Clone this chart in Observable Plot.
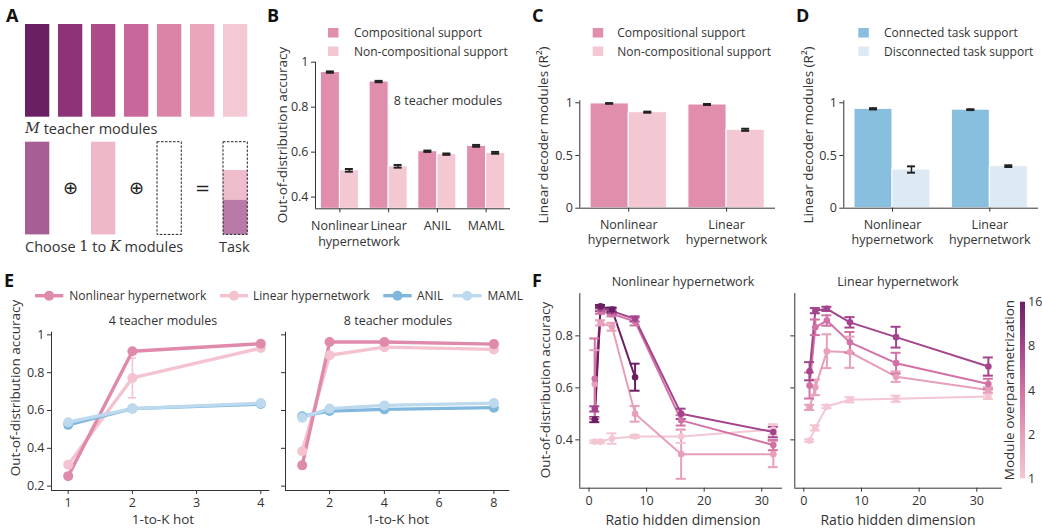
<!DOCTYPE html>
<html><head><meta charset="utf-8">
<script src="https://cdn.jsdelivr.net/npm/d3@7"></script>
<script src="https://cdn.jsdelivr.net/npm/@observablehq/plot@0.6"></script>
<style>
body{margin:0;background:#fff;}
#fig{position:relative;width:1042px;height:529px;overflow:hidden;background:#fff;font-family:"Open Sans",sans-serif;}
</style>
</head><body><div id="fig"></div>
<script>
// ---------------- DATA ----------------
// Panel A
const teacherColors = ["#6b1f63","#8e3377","#ad4a89","#c86799","#dc84a8","#eaa7bc","#f3c9d3"];
const chosenColors = ["#a75e95","#eeb8c9"];
const taskSegments = [0, 0.305, 0.627, 1];
const taskColors = ["none","#efbccb","#b77aa8"];

// Panel B
const bGroups = ["Nonlinear","Linear","ANIL","MAML"];
const bComp = [0.956, 0.914, 0.604, 0.628];
const bCompErr = [0.003, 0.003, 0.003, 0.004];
const bNonComp = [0.519, 0.537, 0.591, 0.597];
const bNonCompErr = [0.006, 0.006, 0.003, 0.004];

// Panel C
const cGroups = ["Nonlinear\nhypernetwork","Linear\nhypernetwork"];
const cComp = [0.994, 0.984];
const cCompErr = [0.003, 0.005];
const cNonComp = [0.911, 0.744];
const cNonCompErr = [0.005, 0.01];

// Panel D
const dConn = [0.943, 0.935];
const dConnErr = [0.006, 0.004];
const dDisc = [0.367, 0.399];
const dDiscErr = [0.03, 0.008];

// Panel E
const eK4 = [1, 2, 4];
const eNonlin4 = [0.253, 0.913, 0.953];
const eLin4 = [0.313, 0.772, 0.930];
const eLin4Err = [0.008, 0.105, 0.008];
const eAnil4 = [0.524, 0.610, 0.634];
const eMaml4 = [0.538, 0.610, 0.639];
const eK8 = [1, 2, 4, 8];
const eNonlin8 = [0.310, 0.962, 0.962, 0.951];
const eLin8 = [0.385, 0.892, 0.935, 0.923];
const eAnil8 = [0.570, 0.597, 0.606, 0.615];
const eMaml8 = [0.562, 0.610, 0.627, 0.639];

// Panel F
const fRatio = [1, 2, 4, 8, 16, 32];
const overLevels = [1, 2, 4, 8, 16];
const overColors = ["#f3c6d2","#e79fbc","#d271a3","#a3448d","#6b1f63"];
// Nonlinear hypernetwork
const fNl1 = [0.393, 0.393, 0.405, 0.413, 0.413, 0.440];
const fNl1Err = [0.005, 0.005, 0.02, 0.006, 0.025, 0.02];
const fNl2 = [0.615, 0.850, 0.835, 0.500, 0.345, 0.345];
const fNl2Err = [0.13, 0.01, 0.015, 0.03, 0.095, 0.05];
const fNl4 = [0.635, 0.895, 0.885, 0.855, 0.475, 0.380];
const fNl4Err = [0.155, 0.01, 0.01, 0.015, 0.02, 0.02];
const fNl8 = [0.519, 0.905, 0.895, 0.865, 0.500, 0.430];
const fNl8Err = [0.01, 0.01, 0.01, 0.01, 0.02, 0.02];
const fNl16 = [0.478, 0.914, 0.901, 0.641];
const fNl16Err = [0.01, 0.005, 0.008, 0.052];
// Linear hypernetwork
const fLi1 = [0.397, 0.446, 0.528, 0.554, 0.558, 0.567];
const fLi1Err = [0.005, 0.01, 0.006, 0.01, 0.012, 0.01];
const fLi2 = [0.525, 0.602, 0.741, 0.737, 0.643, 0.592];
const fLi2Err = [0.01, 0.03, 0.065, 0.06, 0.02, 0.01];
const fLi4 = [0.609, 0.833, 0.859, 0.775, 0.695, 0.615];
const fLi4Err = [0.05, 0.03, 0.02, 0.04, 0.04, 0.02];
const fLi8 = [0.664, 0.897, 0.904, 0.852, 0.795, 0.682];
const fLi8Err = [0.035, 0.01, 0.008, 0.02, 0.04, 0.035];

// ---------------- HELPERS ----------------
const fig = document.getElementById("fig");
const FONT = '"Open Sans", sans-serif';
const INK = "#333";
function place(node, left, top) {
  node.style.position = "absolute";
  node.style.left = left + "px";
  node.style.top = top + "px";
  fig.appendChild(node);
}
const baseStyle = {fontFamily: FONT, fontSize: "12.5px", color: INK, background: "transparent", overflow: "visible"};
const fmt1 = d => d === 1 ? "1" : (d === 0 ? "0" : d3.format(".1f")(d));

// ---------------- PANEL A ----------------
{
  const top = teacherColors.map((c, i) => ({col: i, c}));
  const bottom = [{col: 0, c: chosenColors[0]}, {col: 2, c: chosenColors[1]}];
  const dashed = [{col: 4}, {col: 6}];
  const task = taskColors.map((c, i) => ({col: 6, a: taskSegments[i], b: taskSegments[i + 1], c})).filter(d => d.c !== "none");
  const ops = [{col: 1, s: "\u2295"}, {col: 3, s: "\u2295"}, {col: 5, s: "="}];
  const W = 0.736, R2 = 1.27;
  const svg = Plot.plot({
    width: 260, height: 250, marginLeft: 25, marginRight: 4, marginTop: 24, marginBottom: 15.6,
    x: {domain: [0, 7], axis: null},
    y: {domain: [0, 2.27], reverse: true, axis: null},
    style: baseStyle,
    marks: [
      Plot.rect(top, {x1: "col", x2: d => d.col + W, y1: 0, y2: 1, fill: "c"}),
      Plot.rect(bottom, {x1: "col", x2: d => d.col + W, y1: R2, y2: R2 + 1, fill: "c"}),
      Plot.rect(task, {x1: "col", x2: d => d.col + W, y1: d => R2 + d.a, y2: d => R2 + d.b, fill: "c"}),
      Plot.rect(dashed, {x1: "col", x2: d => d.col + W, y1: R2, y2: R2 + 1, fill: "none", stroke: "#222", strokeWidth: 1, strokeDasharray: "2.5,1.5"}),
      Plot.text(ops, {x: d => d.col + W / 2, y: R2 + 0.5, text: "s", fontSize: 18, fill: "#222", fontFamily: "DejaVu Sans"})
    ]
  });
  place(svg, 0, 0);
}

// ---------------- BAR PANELS ----------------
function barPanel(o) {
  const rows = [];
  o.labels.forEach((l, i) => {
    rows.push({g: i, side: -1, v: o.a[i], e: o.aErr[i], c: o.colA});
    rows.push({g: i, side: 1, v: o.b[i], e: o.bErr[i], c: o.colB});
  });
  const y0 = o.yDomain[0], n = o.labels.length, BW = 0.39;
  const cx = d => d.g + d.side * BW / 2;
  const svg = Plot.plot({
    width: o.width, height: o.height,
    marginLeft: o.mL, marginRight: o.mR, marginTop: o.mT, marginBottom: o.mB,
    x: {domain: [-0.5, n - 0.5]},
    y: {domain: o.yDomain},
    style: baseStyle,
    marks: [
      Plot.rect(rows, {x1: d => d.side < 0 ? d.g - BW : d.g, x2: d => d.side < 0 ? d.g : d.g + BW, y1: y0, y2: "v", fill: "c", stroke: "white", strokeWidth: 1}),
      Plot.ruleX(rows, {x: cx, y1: d => d.v - d.e, y2: d => d.v + d.e, stroke: "#222", strokeWidth: 1.5}),
      Plot.ruleY(rows, {y: d => d.v + d.e, x1: cx, x2: cx, insetLeft: -4, insetRight: -4, stroke: "#222", strokeWidth: 2}),
      Plot.ruleY(rows, {y: d => d.v - d.e, x1: cx, x2: cx, insetLeft: -4, insetRight: -4, stroke: "#222", strokeWidth: 2}),
      Plot.ruleY([y0], {stroke: INK}),
      Plot.ruleX([-0.5], {stroke: INK}),
      Plot.axisY({ticks: o.yTicks, tickFormat: fmt1, tickSize: 4, tickPadding: 3, label: null, fontSize: 12.5}),
      Plot.axisX({ticks: o.labels.map((l, i) => i), tickFormat: i => o.labels[i], tickSize: 4, tickPadding: 6, lineHeight: 1.23, label: null, fontSize: 12.5})
    ]
  });
  place(svg, o.left, o.top);
}
const COMP = "#e08dae", NONCOMP = "#f4c8d3", CONN = "#88bfdf", DISC = "#dde9f5";
barPanel({left: 255, top: 0, width: 262, height: 250, mL: 60, mR: 7, mT: 61.7, mB: 41.7,
  yDomain: [0.348, 1.0], yTicks: [0.4, 0.6, 0.8, 1], labels: bGroups,
  a: bComp, aErr: bCompErr, b: bNonComp, bErr: bNonCompErr, colA: COMP, colB: NONCOMP});
barPanel({left: 520, top: 0, width: 260, height: 250, mL: 59.3, mR: 5, mT: 100.2, mB: 42.3,
  yDomain: [0, 1.02], yTicks: [0, 0.5, 1], labels: cGroups,
  a: cComp, aErr: cCompErr, b: cNonComp, bErr: cNonCompErr, colA: COMP, colB: NONCOMP});
barPanel({left: 780, top: 0, width: 262, height: 250, mL: 63.3, mR: 4, mT: 100.2, mB: 42.3,
  yDomain: [0, 1.02], yTicks: [0, 0.5, 1], labels: cGroups,
  a: dConn, aErr: dConnErr, b: dDisc, bErr: dDiscErr, colA: CONN, colB: DISC});

// ---------------- PANEL E ----------------
const eColors = {nl: "#e08aab", lin: "#f4c3cf", anil: "#80b7dc", maml: "#bcd9ee"};
function ePanel(o) {
  const rows = [];
  o.series.forEach(s => s.v.forEach((v, i) => rows.push({key: s.key, x: o.ks[i], v, e: s.e ? s.e[i] : 0})));
  const errRows = rows.filter(d => d.e > 0.02);
  const svg = Plot.plot({
    width: o.width, height: o.height,
    marginLeft: o.mL, marginRight: o.mR, marginTop: o.mT, marginBottom: o.mB,
    x: {domain: o.xDomain},
    y: {domain: [0.177, 1.014]},
    color: {domain: Object.keys(eColors), range: Object.values(eColors)},
    style: baseStyle,
    marks: [
      Plot.ruleY([0.177], {stroke: INK}),
      Plot.ruleX([o.xDomain[0]], {stroke: INK}),
      Plot.ruleX(errRows, {x: "x", y1: d => d.v - d.e, y2: d => d.v + d.e, stroke: "key", strokeWidth: 1.6}),
      Plot.ruleY(errRows, {y: d => d.v + d.e, x1: "x", x2: "x", insetLeft: -4, insetRight: -4, stroke: "key", strokeWidth: 1.6}),
      Plot.ruleY(errRows, {y: d => d.v - d.e, x1: "x", x2: "x", insetLeft: -4, insetRight: -4, stroke: "key", strokeWidth: 1.6}),
      Plot.line(rows, {x: "x", y: "v", z: "key", stroke: "key", strokeWidth: 3.4}),
      Plot.dot(rows, {x: "x", y: "v", fill: "key", r: 5}),
      Plot.axisY({ticks: [0.2, 0.4, 0.6, 0.8, 1], tickFormat: o.yLabels ? fmt1 : () => "", tickSize: 4, tickPadding: 3, label: null, fontSize: 12.5}),
      Plot.axisX({ticks: o.xTicks, tickFormat: d3.format("d"), tickSize: 4, tickPadding: 4, label: null, fontSize: 12.5})
    ]
  });
  place(svg, o.left, o.top);
}
ePanel({left: 0, top: 300, width: 280, height: 229, mL: 51, mR: 10.7, mT: 31.7, mB: 39,
  xDomain: [0.74, 4.14], xTicks: [1, 2, 3, 4], ks: eK4, yLabels: true,
  series: [{key: "lin", v: eLin4, e: eLin4Err}, {key: "nl", v: eNonlin4}, {key: "anil", v: eAnil4}, {key: "maml", v: eMaml4}]});
ePanel({left: 280, top: 300, width: 240, height: 229, mL: 5, mR: 10.7, mT: 31.7, mB: 39,
  xDomain: [0.39, 8.58], xTicks: [2, 4, 6, 8], ks: eK8, yLabels: false,
  series: [{key: "lin", v: eLin8}, {key: "nl", v: eNonlin8}, {key: "anil", v: eAnil8}, {key: "maml", v: eMaml8}]});

// ---------------- PANEL F ----------------
function fPanel(o) {
  const rows = [];
  o.series.forEach(s => s.v.forEach((v, i) => rows.push({o: s.o, x: fRatio[i], v, e: s.e[i]})));
  const yMin = 0.214;
  const svg = Plot.plot({
    width: o.width, height: o.height,
    marginLeft: o.mL, marginRight: o.mR, marginTop: o.mT, marginBottom: o.mB,
    x: {domain: o.xDomain},
    y: {domain: [yMin, 0.963]},
    color: {type: "ordinal", domain: overLevels, range: overColors},
    style: baseStyle,
    marks: [
      Plot.ruleY([yMin], {stroke: INK}),
      Plot.ruleX([o.xDomain[0]], {stroke: INK}),
      Plot.line(rows, {x: "x", y: "v", z: "o", stroke: "o", strokeWidth: 2}),
      Plot.ruleX(rows, {x: "x", y1: d => d.v - d.e, y2: d => d.v + d.e, stroke: "o", strokeWidth: 2}),
      Plot.ruleY(rows, {y: d => d.v + d.e, x1: "x", x2: "x", insetLeft: -5, insetRight: -5, stroke: "o", strokeWidth: 2}),
      Plot.ruleY(rows, {y: d => d.v - d.e, x1: "x", x2: "x", insetLeft: -5, insetRight: -5, stroke: "o", strokeWidth: 2}),
      Plot.dot(rows, {x: "x", y: "v", fill: "o", r: 3.3}),
      Plot.axisY({ticks: [0.4, 0.6, 0.8], tickFormat: o.yLabels ? fmt1 : () => "", tickSize: 4, tickPadding: 3, label: null, fontSize: 12.5}),
      Plot.axisX({ticks: [0, 10, 20, 30], tickSize: 4, tickPadding: 4, label: null, fontSize: 12.5})
    ]
  });
  place(svg, o.left, o.top);
}
fPanel({left: 530, top: 270, width: 260, height: 259, mL: 49.3, mR: 8, mT: 23, mB: 41.3,
  xDomain: [-1.6, 33.6], yLabels: true,
  series: [{o: 1, v: fNl1, e: fNl1Err}, {o: 2, v: fNl2, e: fNl2Err}, {o: 4, v: fNl4, e: fNl4Err}, {o: 8, v: fNl8, e: fNl8Err}, {o: 16, v: fNl16, e: fNl16Err}]});
fPanel({left: 790, top: 270, width: 222, height: 259, mL: 4.3, mR: 10.3, mT: 23, mB: 41.3,
  xDomain: [-1.56, 34.4], yLabels: false,
  series: [{o: 1, v: fLi1, e: fLi1Err}, {o: 2, v: fLi2, e: fLi2Err}, {o: 4, v: fLi4, e: fLi4Err}, {o: 8, v: fLi8, e: fLi8Err}]});

// ---------------- OVERLAY (text, legends, gradient) ----------------
const ov = d3.select(fig).append("svg")
  .attr("width", 1042).attr("height", 529)
  .style("position", "absolute").style("left", 0).style("top", 0)
  .style("font-family", FONT).style("pointer-events", "none");
const grad = ov.append("defs").append("linearGradient").attr("id", "cbgrad")
  .attr("x1", 0).attr("y1", 1).attr("x2", 0).attr("y2", 0);
overColors.forEach((c, i) => grad.append("stop").attr("offset", i / (overColors.length - 1)).attr("stop-color", c));

// colorbar
{
  const svg = Plot.plot({
    width: 32, height: 200, marginLeft: 10, marginRight: 17, marginTop: 11.7, marginBottom: 11.7,
    x: {domain: [0, 1], axis: null},
    y: {type: "log", domain: [1, 16]},
    style: baseStyle,
    marks: [
      Plot.rect([overLevels], {x1: 0, x2: 1, y1: d => d[0], y2: d => d[d.length - 1], fill: "url(#cbgrad)"}),
      Plot.axisY({anchor: "right", ticks: overLevels, tickFormat: d => String(d), tickSize: 0, tickPadding: 2.5, label: null, fontSize: 12.5})
    ]
  });
  place(svg, 1010, 290);
}
fig.appendChild(ov.node());

function T(x, y, s, o = {}) {
  const t = ov.append("text")
    .attr("x", x).attr("y", y)
    .attr("text-anchor", o.anchor || "middle")
    .attr("dominant-baseline", "central")
    .attr("font-size", o.size || 13)
    .attr("font-weight", o.weight || 400)
    .attr("fill", o.fill || INK)
    .text(s);
  if (o.rot) t.attr("transform", `rotate(${o.rot},${x},${y})`);
  return t;
}
// Panel letters
[["A", 6, 15], ["B", 267, 15], ["C", 532, 15], ["D", 796, 15], ["E", 4, 280], ["F", 532, 280]]
  .forEach(([s, x, y]) => T(x, y, s, {anchor: "start", size: 18, weight: 700, fill: "#111"}));

// Panel A labels
{
  const t1 = T(25, 128, "", {anchor: "start", size: 14.5});
  t1.append("tspan").attr("font-family", "DejaVu Serif").attr("font-style", "italic").text("M");
  t1.append("tspan").text(" teacher modules");
  const t2 = T(25, 246, "", {anchor: "start", size: 14.5});
  t2.append("tspan").text("Choose ");
  t2.append("tspan").attr("font-family", "DejaVu Serif").text("1");
  t2.append("tspan").text(" to ");
  t2.append("tspan").attr("font-family", "DejaVu Serif").attr("font-style", "italic").text("K");
  t2.append("tspan").text(" modules");
  T(219, 246, "Task", {anchor: "start", size: 14.5});
}

// Panel B second line of first tick label
T(359, 241, "hypernetwork", {size: 12.5});

// Bar legends
function barLegend(sx, tx, c1, c2, s1, s2) {
  ov.append("rect").attr("x", sx).attr("y", 28).attr("width", 10.5).attr("height", 9.5).attr("fill", c1);
  ov.append("rect").attr("x", sx).attr("y", 46.5).attr("width", 10.5).attr("height", 9.5).attr("fill", c2);
  T(tx, 32.8, s1, {anchor: "start", size: 12});
  T(tx, 51.3, s2, {anchor: "start", size: 12});
}
barLegend(328, 354, COMP, NONCOMP, "Compositional support", "Non-compositional support");
barLegend(592.7, 617.3, COMP, NONCOMP, "Compositional support", "Non-compositional support");
barLegend(858.3, 884, CONN, DISC, "Connected task support", "Disconnected task support");
T(448, 100, "8 teacher modules", {size: 12.5});

// Y axis labels
T(282, 135, "Out-of-distribution accuracy", {rot: -90, size: 13.5});
T(543, 135, "Linear decoder modules (R\u00B2)", {rot: -90, size: 13.5});
T(808, 135, "Linear decoder modules (R\u00B2)", {rot: -90, size: 13.5});
T(15, 388, "Out-of-distribution accuracy", {rot: -90, size: 13.5});
T(545, 390, "Out-of-distribution accuracy", {rot: -90, size: 13.5});
T(1009, 390, "Module overparametrization", {rot: -90, size: 13.5});

// E and F titles / x labels
T(163, 320, "4 teacher modules", {size: 12.5});
T(398, 320, "8 teacher modules", {size: 12.5});
T(163, 519, "1-to-K hot", {size: 13.5});
T(398, 519, "1-to-K hot", {size: 13.5});
T(683, 281.7, "Nonlinear hypernetwork", {size: 12.5});
T(898, 281.7, "Linear hypernetwork", {size: 12.5});
T(683, 519, "Ratio hidden dimension", {size: 14});
T(898, 519, "Ratio hidden dimension", {size: 14});

// E legend
[["nl", 35, 63.3, 69.3, "Nonlinear hypernetwork"], ["lin", 220, 248, 253, "Linear hypernetwork"],
 ["anil", 383.3, 411.7, 417, "ANIL"], ["maml", 452.7, 481.7, 487.5, "MAML"]].forEach(([k, a, b, tx, s]) => {
  ov.append("line").attr("x1", a).attr("x2", b).attr("y1", 295.7).attr("y2", 295.7).attr("stroke", eColors[k]).attr("stroke-width", 3.4);
  ov.append("circle").attr("cx", (a + b) / 2).attr("cy", 295.7).attr("r", 5).attr("fill", eColors[k]);
  T(tx, 295.7, s, {anchor: "start", size: 12});
});
</script></body></html>
